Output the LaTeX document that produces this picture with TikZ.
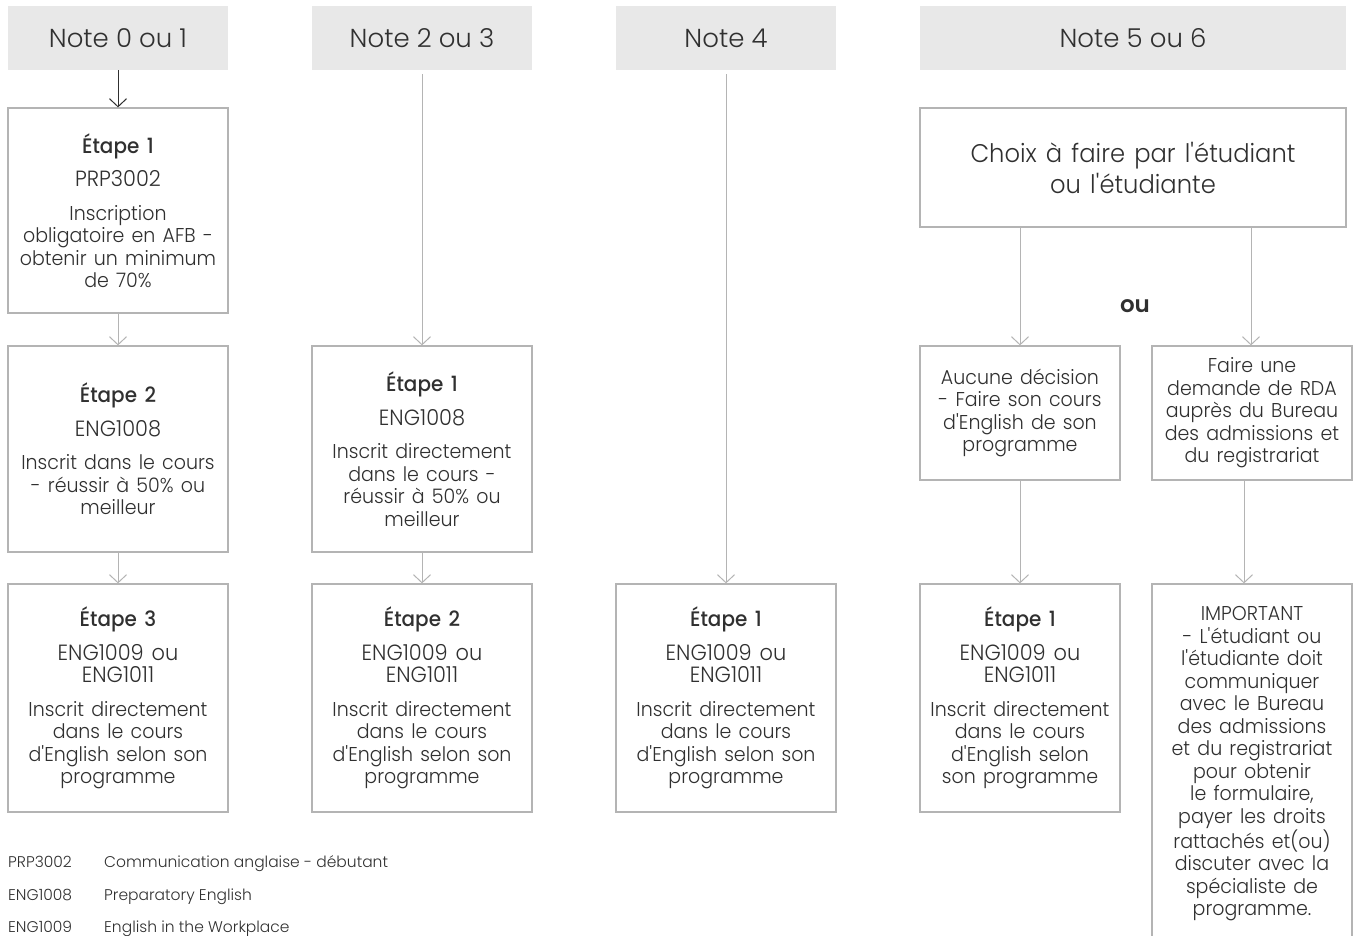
\documentclass[tikz,border=0pt]{standalone}
\usepackage{fontspec}
\usetikzlibrary{arrows.meta}
\setmainfont{Poppins}
\newfontfamily\lightf{Poppins Light}[FakeStretch=0.95]
\newfontfamily\hdrf{Poppins Light}
\newfontfamily\medf{Poppins Medium}[FakeStretch=0.95]
\newfontfamily\boldf{Poppins SemiBold}
\definecolor{txt}{HTML}{303030}
\definecolor{hdrgray}{HTML}{E8E8E8}
\definecolor{boxgray}{HTML}{B4B4B4}
\definecolor{linegray}{HTML}{B4B4B4}
\newcommand{\ap}{\textquotesingle}
\newcommand{\sps}{\spaceskip=0.36em\xspaceskip=0.36em}
\newcommand{\stp}[3]{{\medf\fontsize{21}{24}\selectfont\sps #1\par}\vspace{11pt}{\lightf\fontsize{22}{22.5}\selectfont\sps #2\par}\vspace{11pt}{\lightf\fontsize{20}{22.5}\selectfont\sps #3\par}}
\newcommand{\dsc}[1]{{\lightf\fontsize{20}{22.5}\selectfont\sps #1\par}}
\begin{document}
\begin{tikzpicture}[x=1pt,y=-1pt,
  hdr/.style={fill=hdrgray, minimum width=220pt, minimum height=64pt, inner sep=0pt, text=txt, font=\hdrf\fontsize{26}{30}\selectfont},
  box/.style={draw=boxgray, line width=1.2pt, fill=white, inner sep=0pt, align=center, text=txt, minimum width=220pt, text width=212pt},
  link/.style={draw=linegray, line width=1pt, -{Straight Barb[length=8pt,width=17pt]}},
  dlink/.style={draw=txt, line width=1pt, -{Straight Barb[length=8pt,width=17pt]}},
  legend/.style={inner sep=0pt, text=txt, font=\hdrf\fontsize{15.5}{20}\selectfont}]
\useasboundingbox (0,0) rectangle (1353,936);
\clip (0,0) rectangle (1353,936);
% headers
\node[hdr] (H1) at (118,38) {Note 0 ou 1};
\node[hdr] (H2) at (422,38) {Note 2 ou 3};
\node[hdr] (H3) at (726,38) {Note 4};
\node[hdr, minimum width=426pt] (H4) at (1133,38) {Note 5 ou 6};
% column 1
\node[box, minimum height=205pt] (A1) at (118,210.5) {\stp{Étape 1}{PRP3002}{Inscription\\obligatoire en AFB -\\obtenir un minimum\\de 70\%}};
\node[box, minimum height=206pt] (A2) at (118,449) {\stp{Étape 2}{ENG1008}{Inscrit dans le cours\\- réussir à 50\% ou\\meilleur}};
\node[box, minimum height=228pt] (A3) at (118,698) {\stp{Étape 3}{ENG1009 ou\\ENG1011}{Inscrit directement\\dans le cours\\d\ap English selon son\\programme}};
% column 2
\node[box, minimum height=206pt] (B1) at (422,449) {\stp{Étape 1}{ENG1008}{Inscrit directement\\dans le cours -\\réussir à 50\% ou\\meilleur}};
\node[box, minimum height=228pt] (B2) at (422,698) {\stp{Étape 2}{ENG1009 ou\\ENG1011}{Inscrit directement\\dans le cours\\d\ap English selon son\\programme}};
% column 3
\node[box, minimum height=228pt] (C1) at (726,698) {\stp{Étape 1}{ENG1009 ou\\ENG1011}{Inscrit directement\\dans le cours\\d\ap English selon son\\programme}};
% column 4
\node[box, minimum width=426pt, text width=416pt, minimum height=119pt] (D0) at (1133,167.5) {{\lightf\fontsize{25.5}{31}\selectfont\sps Choix à faire par l\ap étudiant\\ou l\ap étudiante\par}};
\node[box, minimum width=200pt, text width=194pt, minimum height=134pt] (D1) at (1020,413) {\dsc{Aucune décision\\- Faire son cours\\d\ap English de son\\programme}};
\node[box, minimum width=200pt, text width=196pt, minimum height=134pt] (D2) at (1252,413) {\dsc{Faire une\\demande de RDA\\auprès du Bureau\\des admissions et\\du registrariat}};
\node[box, minimum width=200pt, text width=196pt, minimum height=228pt] (D3) at (1020,698) {\stp{Étape 1}{ENG1009 ou\\ENG1011}{Inscrit directement\\dans le cours\\d\ap English selon\\son programme}};
\node[box, minimum width=200pt, text width=196pt, minimum height=360pt] (D4) at (1252,764) {\dsc{IMPORTANT\\- L\ap étudiant ou\\l\ap étudiante doit\\communiquer\\avec le Bureau\\des admissions\\et du registrariat\\pour obtenir\\le formulaire,\\payer les droits\\rattachés et(ou)\\discuter avec la\\spécialiste de\\programme.}};
\node[inner sep=0pt, text=txt, font=\boldf\fontsize{23}{23}\selectfont] (ou) at (1135,306) {ou};
% connectors
\draw[dlink] (H1) -- (A1);
\draw[link] (A1) -- (A2);
\draw[link] (A2) -- (A3);
\draw[link, shorten <=4pt] (H2) -- (B1);
\draw[link] (B1) -- (B2);
\draw[link, shorten <=4pt] (H3) -- (C1);
\draw[link] (D0.south -| D1.north) -- (D1.north);
\draw[link] ([xshift=-1pt]D0.south -| D2.north) -- ([xshift=-1pt]D2.north);
\draw[link] (D1) -- (D3);
\draw[link] ([xshift=-8pt]D2.south) -- ([xshift=-8pt]D4.north);
% legend
\node[legend, anchor=base west] (L1a) at (8,867) {PRP3002};
\node[legend, anchor=base west] (L1b) at (104,867) {Communication anglaise - débutant};
\node[legend, anchor=base west] (L2a) at (8,900) {ENG1008};
\node[legend, anchor=base west] (L2b) at (104,900) {Preparatory English};
\node[legend, anchor=base west] (L3a) at (8,932) {ENG1009};
\node[legend, anchor=base west] (L3b) at (104,932) {English in the Workplace};
\end{tikzpicture}
\end{document}
